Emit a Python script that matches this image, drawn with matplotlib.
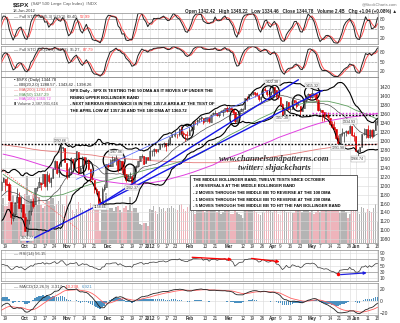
import numpy as np
import pandas as pd
import matplotlib
matplotlib.use("Agg")
import matplotlib.pyplot as plt
from matplotlib.patches import Ellipse

# ---------------- data: $SPX daily, Jul 25 2011 - Jun 18 2012 ----------------
# (the first weeks sit left of the visible window and only warm up the indicators)
holidays = ['2011-09-05', '2011-11-24', '2011-12-26', '2012-01-02', '2012-01-16',
            '2012-02-20', '2012-04-06', '2012-05-28']

opens = [1344, 1337, 1332, 1304, 1300,
         1293, 1286, 1254, 1260, 1200, 1199, 1121, 1171, 1122, 1173, 1180, 1200, 1193, 1189, 1140,
         1135, 1124, 1162, 1177, 1158, 1177, 1209, 1213,
         1219, 1204, 1173, 1166, 1197, 1185, 1153, 1162, 1173, 1190, 1209, 1214, 1204, 1203, 1164, 1128,
         1136, 1163, 1175, 1151, 1159,
         1131, 1098, 1124, 1144, 1165, 1158, 1194, 1196, 1206, 1206, 1225, 1200, 1223, 1209, 1217,
         1238, 1254, 1230, 1243, 1284, 1284,
         1251, 1219, 1238, 1260, 1253, 1262, 1275, 1230, 1240, 1263, 1251, 1257, 1236, 1216,
         1212, 1193, 1187, 1162, 1159, 1192, 1197,
         1246, 1246, 1244, 1257, 1258, 1260, 1235, 1255, 1236, 1225, 1212, 1217, 1219, 1205, 1241,
         1244, 1254, 1265, 1265, 1250, 1263,
         1258, 1277, 1277, 1281, 1278, 1281, 1292, 1292, 1296, 1291, 1294, 1308, 1314, 1315, 1315,
         1315, 1327, 1318, 1316, 1313,
         1313, 1324, 1326, 1344, 1344, 1348, 1350, 1351, 1343, 1351, 1351, 1342, 1359, 1362, 1362,
         1357, 1364, 1365, 1368, 1373,
         1366, 1374, 1370, 1364, 1343, 1353, 1366, 1370, 1371, 1395, 1395, 1403, 1404, 1409, 1406,
         1402, 1393, 1397, 1416, 1413, 1405, 1404,
         1408, 1419, 1414, 1399, 1397, 1382, 1359, 1368, 1387, 1370, 1370, 1390, 1386, 1379, 1378,
         1366, 1373, 1391, 1400, 1403,
         1398, 1405, 1403, 1391, 1368, 1369, 1363, 1355, 1358, 1351, 1338, 1330, 1325, 1305, 1295,
         1316, 1318, 1320, 1321, 1318, 1332, 1313,
         1310, 1278, 1277, 1285, 1316, 1314, 1325, 1309, 1324, 1311, 1324, 1342.42]
highs = [1344, 1338, 1332, 1316, 1304,
         1307, 1286, 1261, 1260, 1212, 1199, 1173, 1171, 1186, 1190, 1205, 1200, 1208, 1190, 1154,
         1145, 1162, 1179, 1190, 1181, 1210, 1220, 1230,
         1229, 1204, 1174, 1198, 1204, 1185, 1163, 1176, 1202, 1210, 1220, 1214, 1220, 1207, 1164, 1141,
         1163, 1195, 1185, 1175, 1159,
         1138, 1125, 1146, 1165, 1172, 1195, 1200, 1220, 1207, 1225, 1225, 1233, 1229, 1219, 1239,
         1256, 1254, 1246, 1292.66, 1287, 1284,
         1251, 1242, 1263, 1260, 1262, 1277, 1275, 1244, 1266, 1263, 1264, 1259, 1238, 1224,
         1212, 1197, 1187, 1172, 1197, 1203, 1247,
         1251, 1260, 1266, 1263, 1267.06, 1260, 1258, 1255, 1249, 1225, 1226, 1231, 1224, 1242, 1245,
         1255, 1265, 1270, 1266, 1264, 1264,
         1285, 1279, 1284, 1282, 1282, 1296, 1293, 1297, 1296, 1303, 1308, 1315, 1316, 1323, 1315,
         1329, 1333, 1321, 1316, 1322,
         1330, 1329, 1345, 1345, 1349, 1351, 1354, 1351, 1353, 1351, 1356, 1359, 1364, 1368, 1362,
         1364, 1368, 1371, 1373, 1378,
         1377, 1374, 1370, 1364, 1354, 1368, 1374, 1372, 1396, 1399, 1403, 1405, 1410, 1409, 1408,
         1402, 1400, 1416, 1420, 1414, 1405, 1410,
         1422.38, 1420, 1414, 1401, 1397, 1383, 1373, 1388, 1387, 1380, 1392, 1390, 1391, 1388, 1378,
         1375, 1391, 1402, 1406, 1403,
         1415.32, 1405, 1404, 1392, 1373, 1369, 1363, 1365, 1365, 1351, 1345, 1343, 1326, 1313, 1316,
         1328, 1320, 1324, 1324, 1334.93, 1332, 1319,
         1310, 1282, 1287, 1316, 1329, 1325, 1335, 1325, 1327, 1327, 1343, 1348.22]
lows = [1331, 1329, 1303, 1296, 1282,
        1274, 1254, 1234, 1199, 1168, 1119, 1101, 1120, 1122, 1170, 1180, 1176, 1184, 1131, 1123,
        1121, 1122, 1160, 1155, 1135, 1177, 1196, 1209,
        1203, 1170, 1140, 1166, 1183, 1148, 1137, 1157, 1163, 1189, 1207, 1188, 1201, 1166, 1114, 1121,
        1131, 1163, 1150, 1140, 1131,
        1099, 1074.77, 1115, 1134, 1150, 1158, 1187, 1196, 1190, 1206, 1197, 1191, 1206, 1197, 1217,
        1238, 1226, 1220, 1243, 1278, 1253,
        1215, 1219, 1228, 1239, 1240, 1254, 1226, 1230, 1240, 1246, 1245, 1235, 1209, 1213,
        1183, 1181, 1161, 1158.66, 1159, 1187, 1197,
        1240, 1243, 1244, 1252, 1246, 1231, 1235, 1228, 1219, 1209, 1212, 1216, 1202.37, 1205, 1230,
        1242, 1254, 1262, 1248, 1250, 1257,
        1258, 1266, 1265, 1273, 1274, 1281, 1285, 1286, 1277, 1288, 1291, 1308, 1310, 1309, 1306,
        1310, 1314, 1311, 1300, 1305,
        1313, 1321, 1326, 1338, 1336, 1341, 1344, 1337, 1343, 1341, 1340, 1341, 1357, 1357, 1355,
        1352, 1363, 1354, 1365, 1363,
        1366, 1368, 1360, 1340, 1343, 1353, 1366, 1366, 1371, 1389, 1394, 1400, 1401, 1397, 1400,
        1389, 1386, 1397, 1411, 1399, 1392, 1401,
        1404, 1405, 1395, 1393, 1378, 1357.38, 1359, 1368, 1369, 1365, 1370, 1383, 1372, 1379, 1358,
        1366, 1373, 1387, 1398, 1394,
        1395, 1398, 1389, 1367, 1365, 1344, 1343, 1354, 1348, 1336, 1328, 1324, 1304, 1291.98, 1295,
        1310, 1297, 1310, 1314, 1318, 1310, 1299,
        1278, 1266.74, 1274, 1285, 1312, 1307, 1307, 1307, 1306, 1309, 1324, 1334.46]
closes = [1337, 1332, 1304, 1300, 1292,
          1287, 1254, 1261, 1200, 1199, 1119, 1172, 1121, 1172, 1179, 1204, 1192, 1193, 1140, 1124,
          1124, 1162, 1177, 1159, 1177, 1210, 1213, 1219,
          1204, 1174, 1166, 1198, 1186, 1154, 1162, 1172, 1188, 1209, 1216, 1204, 1202, 1167, 1130, 1136,
          1162, 1175, 1151, 1160, 1131,
          1099, 1124, 1144, 1165, 1155, 1195, 1195, 1208, 1204, 1225, 1200, 1225, 1210, 1216, 1238,
          1254, 1229, 1242, 1285, 1285, 1253,
          1219, 1237, 1262, 1253, 1262, 1276, 1229, 1239, 1264, 1252, 1258, 1237, 1216, 1215,
          1193, 1188, 1162, 1159, 1192, 1196, 1247,
          1244, 1244, 1257, 1259, 1261, 1234, 1255, 1236, 1225, 1212, 1216, 1219, 1205, 1241, 1244,
          1254, 1265, 1266, 1249, 1263, 1258,
          1277, 1278, 1281, 1278, 1281, 1292, 1292, 1296, 1289, 1294, 1308, 1315, 1315, 1316, 1315,
          1326, 1318, 1316, 1313, 1312,
          1324, 1326, 1345, 1344, 1347, 1350, 1352, 1342, 1351, 1351, 1343, 1358, 1361, 1362, 1357,
          1364, 1366, 1368, 1373, 1366,
          1374, 1370, 1364, 1343, 1353, 1366, 1370, 1371, 1396, 1395, 1403, 1404, 1409, 1405, 1402,
          1393, 1397, 1416, 1412, 1405, 1403, 1408,
          1419, 1414, 1399, 1398, 1382, 1358, 1368, 1388, 1370, 1370, 1391, 1386, 1377, 1379, 1366,
          1371, 1391, 1400, 1403, 1398,
          1406, 1403, 1392, 1369, 1369, 1363, 1355, 1358, 1353, 1338, 1330, 1325, 1305, 1295, 1316,
          1318, 1320, 1321, 1318, 1333, 1313, 1310,
          1278, 1278, 1285, 1315, 1315, 1325, 1308, 1324, 1310, 1324, 1342.84, 1344.78]
volumes = [3.5, 4.0, 4.7, 4.7, 5.2,
           4.9, 5.2, 6.4, 9.0, 8.0, 9.9, 9.5, 8.3, 7.6, 5.6, 4.3, 5.1, 4.4, 6.2, 5.2,
           4.0, 5.0, 5.0, 5.5, 5.0, 3.5, 4.6, 5.3,
           4.7, 4.0, 5.1, 4.4, 4.9, 4.9, 5.2, 4.7, 4.9, 4.5, 5.2, 4.3, 4.3, 4.7, 6.7, 5.6,
           4.8, 5.5, 4.8, 5.3, 4.4,
           5.7, 7.7, 5.6, 5.1, 5.6, 4.4, 4.4, 5.3, 4.4, 4.1, 4.3, 5.0, 4.9, 5.3, 5.2,
           4.3, 4.5, 4.9, 6.7, 4.5, 4.3,
           5.6, 4.1, 4.8, 3.8, 3.4, 3.9, 4.7, 4.0, 3.8, 3.2, 3.8, 4.1, 4.6, 3.8,
           4.5, 3.9, 3.8, 1.4, 3.9, 3.8, 5.8,
           3.8, 4.0, 4.1, 3.7, 4.2, 4.3, 3.8, 3.6, 4.1, 4.3, 3.8, 5.3, 3.7, 4.1, 4.0,
           3.5, 2.2, 2.1, 2.3, 2.3, 2.0,
           3.9, 3.8, 4.3, 3.7, 3.4, 4.2, 3.9, 4.0, 3.7, 4.0, 4.1, 4.3, 4.0, 3.9, 3.8,
           4.4, 4.5, 3.9, 3.7, 4.2,
           4.5, 4.0, 4.1, 3.4, 3.7, 4.1, 4.4, 3.9, 3.6, 3.9, 4.1, 4.1, 3.9, 3.8, 3.6,
           3.8, 3.3, 3.6, 3.8, 4.5,
           3.9, 3.3, 3.4, 4.2, 3.6, 3.4, 3.2, 2.9, 4.4, 4.5, 4.3, 5.2, 3.7, 3.7, 3.6,
           3.4, 3.2, 3.6, 3.5, 3.8, 3.8, 3.8,
           3.6, 3.9, 3.9, 3.4, 3.2, 4.6, 3.7, 3.6, 3.6, 3.6, 3.5, 3.5, 4.3, 4.2, 4.0,
           3.6, 3.9, 3.8, 3.8, 3.6,
           3.8, 3.4, 3.6, 3.9, 3.6, 4.3, 4.3, 3.8, 3.9, 3.7, 4.1, 4.3, 4.5, 5.0, 3.5,
           4.1, 4.1, 3.6, 2.9, 3.4, 3.8, 4.6,
           4.7, 4.2, 3.4, 4.2, 4.1, 3.5, 3.9, 3.7, 3.6, 4.0, 4.5, 2.4]

# moving averages
ma_dates = ['2011-09-16', '2011-09-23', '2011-09-30', '2011-10-07', '2011-10-14', '2011-10-21',
            '2011-10-28', '2011-11-04', '2011-11-11', '2011-11-18', '2011-11-25', '2011-12-02',
            '2011-12-09', '2011-12-16', '2011-12-23', '2011-12-30', '2012-01-06', '2012-01-13',
            '2012-01-20', '2012-01-27', '2012-02-03', '2012-02-10', '2012-02-17', '2012-02-24',
            '2012-03-02', '2012-03-09', '2012-03-16', '2012-03-23', '2012-03-30', '2012-04-05',
            '2012-04-13', '2012-04-20', '2012-04-27', '2012-05-04', '2012-05-11', '2012-05-18',
            '2012-05-25', '2012-06-01', '2012-06-08', '2012-06-15', '2012-06-18']
ma200 = [1291, 1288, 1285, 1281, 1278, 1276, 1274, 1272, 1270, 1268, 1265, 1263, 1261, 1259,
         1257, 1256, 1255, 1254, 1253, 1252, 1251, 1251, 1251, 1252, 1253, 1255, 1257, 1260,
         1263, 1266, 1269, 1273, 1277, 1281, 1284, 1287, 1289, 1290, 1291, 1292, 1292.5]
ma50 = [1225, 1210, 1196, 1184, 1175, 1176, 1180, 1188, 1197, 1204, 1208, 1213, 1219, 1224,
        1231, 1236, 1240, 1244, 1249, 1256, 1264, 1275, 1288, 1301, 1314, 1325, 1338, 1350,
        1360, 1369, 1375, 1381, 1385, 1388, 1388, 1383, 1377, 1368, 1360, 1350, 1347.3]
ma100 = [1270, 1265, 1259, 1252, 1245, 1239, 1234, 1228, 1222, 1216, 1211, 1208, 1205, 1203,
         1203, 1205, 1208, 1212, 1217, 1223, 1230, 1238, 1246, 1255, 1264, 1272, 1281, 1290,
         1299, 1307, 1315, 1323, 1331, 1338, 1344, 1348, 1352, 1354, 1357, 1360, 1360.7]

tick_dates = ['2011-09-19', '2011-10-03', '2011-10-10', '2011-10-17', '2011-10-24', '2011-11-01',
              '2011-11-07', '2011-11-14', '2011-11-21', '2011-12-01', '2011-12-12', '2011-12-19',
              '2011-12-27', '2012-01-03', '2012-01-09', '2012-01-17', '2012-01-23', '2012-02-01',
              '2012-02-13', '2012-02-21', '2012-03-01', '2012-03-12', '2012-03-19', '2012-03-26',
              '2012-04-02', '2012-04-09', '2012-04-16', '2012-04-23', '2012-05-01', '2012-05-07',
              '2012-05-14', '2012-05-21', '2012-05-29', '2012-06-01', '2012-06-11', '2012-06-18']
tick_labels = ['19', 'Oct', '10', '17', '24', 'Nov', '7', '14', '21', 'Dec', '12', '19', '27',
               '2012', '9', '17', '23', 'Feb', '13', '21', 'Mar', '12', '19', '26', 'Apr', '9',
               '16', '23', 'May', '7', '14', '21', '29', 'Jun', '11', '18']
bold_labels = ['Oct', 'Nov', 'Dec', '2012', 'Feb', 'Mar', 'Apr', 'May', 'Jun']

# ---------------- frame ----------------
dates = pd.bdate_range('2011-07-25', '2012-06-18')
dates = dates[~dates.isin(pd.to_datetime(holidays))]
df = pd.DataFrame({'o': opens, 'h': highs, 'l': lows, 'c': closes, 'v': volumes}, index=dates)
x = np.arange(len(df))


def ix(d):
    return df.index.get_loc(pd.Timestamp(d))


# indicators
def full_sto(n):
    ll = df.l.rolling(n).min()
    hh = df.h.rolling(n).max()
    k = (100 * (df.c - ll) / (hh - ll)).rolling(3).mean()
    return k, k.rolling(3).mean()


sto5k, sto5d = full_sto(5)
sto14k, sto14d = full_sto(14)
mid = df.c.rolling(20).mean()
sd = df.c.rolling(20).std(ddof=0)
bb_up, bb_lo = mid + 2 * sd, mid - 2 * sd
delta = df.c.diff()
gain = delta.clip(lower=0).ewm(alpha=1 / 14, adjust=False).mean()
loss = (-delta.clip(upper=0)).ewm(alpha=1 / 14, adjust=False).mean()
rsi = 100 - 100 / (1 + gain / loss)
macd = df.c.ewm(span=12, adjust=False).mean() - df.c.ewm(span=26, adjust=False).mean()
signal = macd.ewm(span=9, adjust=False).mean()
hist = macd - signal

# ---------------- figure ----------------
W, H = 400.0, 323.0
fig = plt.figure(figsize=(4.0, 3.23), dpi=100)
fig.patch.set_facecolor('white')
SANS = ['Liberation Sans', 'DejaVu Sans']
xl = ix('2011-10-03') - 24 / 1.98
xr = xl + 377 / 1.98
ticks = [ix(d) for d in tick_dates]
renderer = fig.canvas.get_renderer()


def panel(top, bottom, zorder=1):
    ax = fig.add_axes([1 / W, 1 - bottom / H, 377 / W, (bottom - top) / H], zorder=zorder)
    ax.set_xlim(xl, xr)
    ax.set_xticks(ticks)
    ax.set_xticklabels([])
    ax.yaxis.tick_right()
    ax.tick_params(length=0, labelsize=3.5, pad=1.5, colors='#333333')
    for t in ax.get_yticklabels():
        t.set_family(SANS)
    ax.grid(True, color='#d9d9d9', lw=0.4)
    ax.set_axisbelow(True)
    for s in ax.spines.values():
        s.set_color('#8c8c8c')
        s.set_linewidth(0.5)
    return ax


def ftext(px, py, s, **kw):
    kw.setdefault('fontsize', 3.2)
    kw.setdefault('family', SANS)
    return fig.text(px / W, 1 - py / H, s, va='center', **kw)


def chain(px, py, pieces, gap=1.5, **kw):
    # consecutive pieces of text, each in its own colour / weight
    for s, extra in pieces:
        t = ftext(px, py, s, **dict(kw, **extra))
        px += t.get_window_extent(renderer).width + gap


# header
chain(13, 4.5, [('$SPX', dict(fontsize=4.6, weight='bold', color='#222222')),
                ('(S&P 500 Large Cap Index)  INDX', dict(fontsize=3.2, color='#555555'))])
ftext(13, 11.5, '18-Jun-2012', color='#333333', fontsize=3.0)
ftext(397, 4, '@StockCharts.com', ha='right', color='#777777', fontsize=3.0)
ftext(397, 11.5, 'Open 1342.42   High 1348.22   Low 1334.46   Close 1344.78   Volume 2.4B   '
      'Chg +1.04 (+0.08%) \u25b2', ha='right', color='#222222', weight='bold', fontsize=3.3)

# stochastics panels
for top, bot, k, d, lab, v1, v2 in [(13, 44, sto5k, sto5d, 'Full STO %K(5,3) %D(3)', '69.40,', '52.99'),
                                    (46, 77, sto14k, sto14d, 'Full STO %K(14,3) %D(3)', '95.27,', '87.79')]:
    ax = panel(top, bot)
    ax.set_ylim(0, 100)
    ax.set_yticks([20, 50, 80])
    ax.axhline(80, color='#999999', lw=0.5)
    ax.axhline(20, color='#999999', lw=0.5)
    ax.axhline(50, color='#999999', lw=0.4, ls=(0, (4, 2)))
    ax.plot(x, d, color='#ff5050', lw=0.7)
    ax.plot(x, k, color='#222222', lw=0.7)
    chain(14, top + 4, [('\u2014 ' + lab, dict(color='#444444')), (v1, dict(color='#444444')),
                        (v2, dict(color='#ff4040'))], fontsize=3.1)

# volume (behind price)
axv = fig.add_axes([1 / W, 1 - 243 / H, 377 / W, 166 / H], zorder=1)
axv.set_xlim(xl, xr)
axv.set_ylim(0, 19.2)
axv.axis('off')
down = df.c.diff() < 0
axv.bar(x, df.v, width=0.8, color=np.where(down, '#eeb4bb', '#b4b4b4'), linewidth=0)

# price panel
ax = panel(77, 243, zorder=2)
ax.patch.set_alpha(0)
ax.set_ylim(1072, 1442)
ax.set_yticks(np.arange(1080, 1421, 20))
ax.set_xticklabels(tick_labels)
for t in ax.get_xticklabels():
    t.set_fontsize(3.3)
    t.set_family(SANS)
    if t.get_text() in bold_labels:
        t.set_fontweight('bold')
ax.tick_params(axis='x', pad=1)

mx = [ix(d) for d in ma_dates]
ax.plot(mx, ma200, color='#e57878', lw=0.6)
ax.plot(mx, ma100, color='#e040e0', lw=0.7)
ax.plot(mx, ma50, color='#5f9f5f', lw=0.6)
ax.plot(x, mid, color='#404040', lw=0.45)
ax.plot(x, bb_up, color='black', lw=0.8)
ax.plot(x, bb_lo, color='black', lw=0.8)

up_day = df.c.diff() >= 0
ccol = np.where(up_day, '#333333', '#dd0000')
ax.vlines(x, df.l, df.h, colors=ccol, lw=0.5)
hollow = df.c >= df.o
body = (df.c - df.o).abs().clip(lower=0.8)
ax.bar(x, body, bottom=np.minimum(df.o, df.c), width=0.7,
       color=np.where(hollow, 'white', ccol), edgecolor=ccol, linewidth=0.4)

# trend lines and levels
ax.plot([ix('2011-10-04'), ix('2012-05-08')], [1075, 1075 + (ix('2012-05-08') - ix('2011-10-04')) * 2.26],
        color='#1515e6', lw=1.0)
ax.plot([ix('2011-11-25'), ix('2012-04-20')], [1158.66, 1158.66 + (ix('2012-04-20') - ix('2011-11-25')) * 2.77],
        color='#1515e6', lw=1.0)
ax.plot([ix('2011-11-08'), ix('2012-03-30')], [1214, 1214 + (ix('2012-03-30') - ix('2011-11-08')) * 2.04],
        color='#4a5cff', lw=0.5)
ax.plot([ix('2011-09-15'), ix('2011-11-09')], [1236, 1102], color='#ff6060', lw=0.6, ls=(0, (1.5, 1.5)))
ax.axhline(1292.66, color='black', lw=1.0, ls=(0, (1.2, 1.2)))
ax.plot([ix('2012-04-10'), x[-1] + 1], [1357.38, 1357.38], color='black', lw=1.0, ls=(0, (1.2, 1.2)))
ax.plot([ix('2012-05-01'), x[-1] + 1], [1360.7, 1360.7], color='#e040e0', lw=1.0, ls=(0, (1.2, 1.2)))

# circles drawn round the tests of the middle band
circles = [('2011-11-01', 1240, 7.6, 38), ('2011-11-10', 1244, 6.1, 33), ('2011-11-16', 1233, 5, 44),
           ('2011-12-06', 1256, 11, 49), ('2011-12-16', 1229, 6, 38), ('2012-01-31', 1320, 6, 33),
           ('2012-03-06', 1351, 5, 38), ('2012-03-29', 1407, 6.6, 31), ('2012-04-03', 1407, 5, 33),
           ('2012-04-20', 1384, 6, 36), ('2012-05-01', 1407, 7.6, 33)]
for d, p, w, h in circles:
    ax.add_patch(Ellipse((ix(d), p), w, h, fill=False, color='black', lw=0.9))

# price labels
box = dict(boxstyle='square,pad=0.15', fc='white', ec='#999999', lw=0.3)
for d, p, va in [('2011-10-27', 1292.66, 'bottom'), ('2011-12-07', 1267.06, 'bottom'),
                 ('2011-11-25', 1158.66, 'top'), ('2011-10-04', 1074.77, 'bottom'),
                 ('2011-12-19', 1202.37, 'top'), ('2012-04-02', 1422.38, 'bottom'),
                 ('2012-05-01', 1415.32, 'bottom'), ('2012-04-10', 1357.38, 'top'),
                 ('2012-05-18', 1291.98, 'top'), ('2012-06-04', 1266.74, 'top'),
                 ('2012-05-29', 1334.93, 'bottom')]:
    off = 3 if va == 'bottom' else -3
    ax.text(ix(d), p + off, '%.2f' % p, ha='center', va=va, fontsize=2.6, family=SANS,
            color='#333333', bbox=box, zorder=6)

# legend
leg = [('\u25aa $SPX (Daily) 1344.78', '#222222'),
       ('\u2014 BB(20,2.0) 1288.57 - 1343.42 - 1398.26', '#222222'),
       ('\u2014 MA(200) 1292.48', '#e05050'),
       ('\u2014 MA(50) 1347.29', '#4f8f4f'),
       ('\u2014 MA(100) 1360.72', '#e040e0'),
       ('\u25ae Volume 2,387,931,616', '#444444')]
for i, (s, c) in enumerate(leg):
    ftext(14, 80.5 + i * 4.7, s, color=c, fontsize=3.0, zorder=7)

# commentary
note = ['SPX Daily - SPX IS TESTING THE 50 DMA AS IT MOVES UP UNDER THE',
        'RISING UPPER BOLLINGER BAND',
        '- NEXT SERIOUS RESISTANCE IS IN THE 1357-8 AREA AT THE TEST OF',
        'THE APRIL LOW AT 1357.38 AND THE 100 DMA AT 1360.72']
for i, s in enumerate(note):
    ftext(70, 91 + i * 6.7, s, fontsize=3.05, weight='bold', color='black', zorder=7)

box_lines = ['THE MIDDLE BOLLINGER BAND, TWELVE TESTS SINCE OCTOBER',
             '- 4 REVERSALS AT THE MIDDLE BOLLINGER BAND',
             '- 2 MOVES THROUGH THE MIDDLE BB TO REVERSE AT THE 100 DMA',
             '- 1 MOVES THROUGH THE MIDDLE BB TO REVERSE AT THE 200 DMA',
             '- 5 MOVES THROUGH THE MIDDLE BB TO HIT THE FAR BOLLINGER BAND']
fig.patches.append(plt.Rectangle((190 / W, 1 - 210 / H), 167 / W, 35 / H, transform=fig.transFigure,
                                  fc='white', ec='#444444', lw=0.6, zorder=6))
for i, s in enumerate(box_lines):
    ftext(193, 179.5 + i * 6.7, s, fontsize=3.0, weight='bold', color='black', zorder=7)

SERIF = ['Liberation Serif', 'DejaVu Serif']
ftext(274, 159, 'www.channelsandpatterns.com', ha='center', fontsize=6.2, style='italic',
      weight='bold', family=SERIF, color='#333333', zorder=7)
ftext(274, 168, 'twitter: shjackcharts', ha='center', fontsize=6.2, style='italic',
      weight='bold', family=SERIF, color='#333333', zorder=7)

# RSI
ar = panel(250, 281)
ar.set_ylim(0, 100)
ar.set_yticks([10, 30, 50, 70, 90])
ar.axhline(70, color='#999999', lw=0.5)
ar.axhline(30, color='#999999', lw=0.5)
ar.plot(x, rsi, color='#333333', lw=0.5)
ftext(14, 254, '\u2014 RSI(14) 56.15', color='#444444', fontsize=3.1)
arrow = dict(arrowstyle='-|>', lw=0.9, mutation_scale=4)
ar.annotate('', xy=(ix('2012-03-06'), 69), xytext=(ix('2012-02-01'), 77),
            arrowprops=dict(arrow, color='red'))
ar.annotate('', xy=(ix('2012-04-10'), 61), xytext=(ix('2012-03-15'), 74),
            arrowprops=dict(arrow, color='red'))
ar.annotate('', xy=(ix('2012-06-12'), 27), xytext=(ix('2012-05-18'), 20),
            arrowprops=dict(arrow, color='#2020e0'))
ar.plot(ix('2012-05-18'), 22, 'o', color='red', ms=1.5)

# MACD
am = panel(283, 315)
am.set_ylim(-23.3, 30)
am.set_yticks([-20, 0, 20])
am.set_xticklabels(tick_labels)
for t in am.get_xticklabels():
    t.set_fontsize(3.3)
    t.set_family(SANS)
    if t.get_text() in bold_labels:
        t.set_fontweight('bold')
am.tick_params(axis='x', pad=1)
am.bar(x, hist, width=0.8, color='#4a90c0', linewidth=0)
am.plot(x, signal, color='#ff6060', lw=0.6)
am.plot(x, macd, color='#222222', lw=0.6)
chain(14, 287, [('\u2014 MACD(12,26,9)', dict(color='#444444')), ('-3.317,', dict(color='#444444')),
                ('-10.238,', dict(color='#ff4040')), ('6.921', dict(color='#4a90c0'))], fontsize=3.1)

fig.savefig('out.png', dpi=100)
